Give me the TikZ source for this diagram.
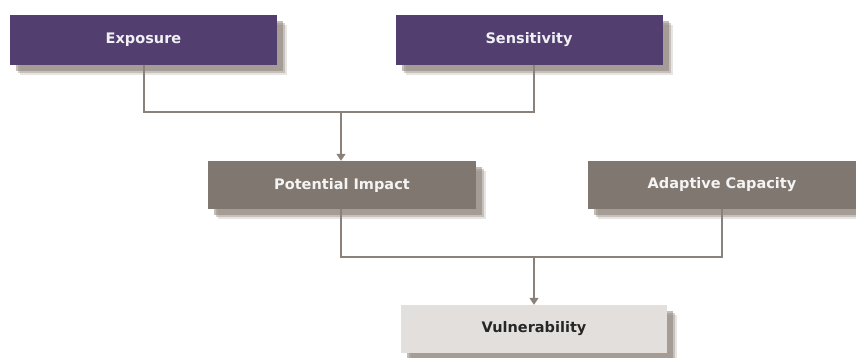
\documentclass[tikz,border=0pt]{standalone}
\usepackage{fontspec}
\setmainfont{DejaVu Sans}
\usetikzlibrary{shadows,arrows.meta,calc}
\definecolor{purp}{HTML}{523F70}
\definecolor{taupe}{HTML}{807770}
\definecolor{light}{HTML}{E3DFDC}
\definecolor{linec}{HTML}{8A817A}
\definecolor{shad}{HTML}{857B70}
\begin{document}
\begin{tikzpicture}[x=1pt,y=-1pt,
  boxbase/.style={rectangle,inner sep=0pt,font=\bfseries\fontsize{14.5}{16}\selectfont,
    general shadow={shadow xshift=10pt,shadow yshift=-10pt,fill=shad,opacity=0.2},
    general shadow={shadow xshift=8pt,shadow yshift=-8pt,fill=shad,opacity=0.35},
    general shadow={shadow xshift=6pt,shadow yshift=-6pt,fill=shad,opacity=0.5}},
  purpbox/.style={boxbase,fill=purp,text=white!92!purp,minimum width=267pt,minimum height=50pt},
  taupebox/.style={boxbase,fill=taupe,text=white!92!taupe,minimum width=268pt,minimum height=48pt},
  lightbox/.style={boxbase,fill=light,text=black!85,minimum width=266pt,minimum height=48pt},
  conn/.style={draw=linec,line width=1.4pt},
  arr/.style={conn,-{Triangle[width=9pt,length=7pt]}}]
\useasboundingbox (0,0) rectangle (856,358);
\node[purpbox] (exp) at (143.5,40) {Exposure};
\node[purpbox] (sen) at (529,40) {Sensitivity};
\node[taupebox] (pot) at (342,185) {Potential Impact};
\node[taupebox] (ada) at (722,185) {Adaptive Capacity};
\node[lightbox] (vul) at (534,329) {Vulnerability};
\coordinate (j1) at (144,112);
\coordinate (j2) at (534,112);
\coordinate (m1) at (341,112);
\coordinate (j3) at (341,257);
\coordinate (j4) at (722,257);
\coordinate (m2) at (534,257);
\draw[conn] (exp.south -| j1) -- (j1) -- (j2) -- (sen.south -| j2);
\draw[arr] (m1) -- (pot.north -| m1);
\draw[conn] (pot.south -| j3) -- (j3) -- (j4) -- (ada.south);
\draw[arr] (m2) -- (vul.north);
\end{tikzpicture}
\end{document}
